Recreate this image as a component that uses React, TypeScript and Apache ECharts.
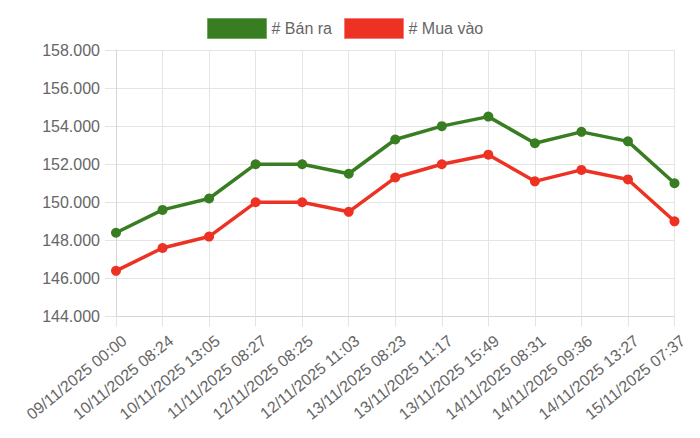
import React, { useEffect, useRef } from "react";
import * as echarts from "echarts";

const categories = [
  "09/11/2025 00:00",
  "10/11/2025 08:24",
  "10/11/2025 13:05",
  "11/11/2025 08:27",
  "12/11/2025 08:25",
  "12/11/2025 11:03",
  "13/11/2025 08:23",
  "13/11/2025 11:17",
  "13/11/2025 15:49",
  "14/11/2025 08:31",
  "14/11/2025 09:36",
  "14/11/2025 13:27",
  "15/11/2025 07:37",
];

const sellValues = [148400, 149600, 150200, 152000, 152000, 151500, 153300, 154000, 154500, 153100, 153700, 153200, 151000];
const buyValues = [146400, 147600, 148200, 150000, 150000, 149500, 151300, 152000, 152500, 151100, 151700, 151200, 149000];

const seriesNames = ["# Bán ra", "# Mua vào"];
const yMin = 144000;
const yMax = 158000;
const yStep = 2000;

const GREEN = "#387d22";
const RED = "#ed3224";
const FONT = "'Liberation Sans', Arial, Helvetica, sans-serif";

function fmt(v: number): string {
  return String(Math.round(v)).replace(/\B(?=(\d{3})+(?!\d))/g, ".");
}

export default function App() {
  const ref = useRef<HTMLDivElement>(null);
  useEffect(() => {
    document.body.style.margin = "0";
    if (!ref.current) return;
    const chart = echarts.init(ref.current, undefined, { renderer: "svg" });
    const gridColor = "#e4e4e4";
    chart.setOption({
      animation: false,
      textStyle: { fontFamily: FONT },
      legend: {
        top: 18,
        left: 207,
        padding: 0,
        itemWidth: 59,
        itemHeight: 20,
        itemGap: 12,
        icon: "rect",
        textStyle: { fontSize: 16, color: "#666", fontFamily: FONT },
        data: [
          { name: seriesNames[0], itemStyle: { color: GREEN, borderColor: "#6fa85c", borderWidth: 1 } },
          { name: seriesNames[1], itemStyle: { color: RED, borderColor: "#f47d73", borderWidth: 1 } },
        ],
      },
      grid: { left: 116, right: 25.5, top: 50, bottom: 121.5, containLabel: false },
      xAxis: {
        type: "category",
        data: categories,
        boundaryGap: false,
        axisLine: { show: true, lineStyle: { color: "#d6d6d6" } },
        axisTick: { show: true, length: 10, lineStyle: { color: gridColor } },
        splitLine: { show: true, lineStyle: { color: gridColor } },
        axisLabel: {
          interval: 0,
          rotate: 39,
          fontSize: 16,
          color: "#666",
          fontFamily: FONT,
          margin: 29,
          padding: [0, -11, 0, 0],
        },
      },
      yAxis: {
        type: "value",
        min: yMin,
        max: yMax,
        interval: yStep,
        axisLine: { show: true, lineStyle: { color: "#d6d6d6" } },
        axisTick: { show: true, length: 11, lineStyle: { color: gridColor } },
        splitLine: { show: true, lineStyle: { color: gridColor } },
        axisLabel: {
          fontSize: 16,
          color: "#666",
          fontFamily: FONT,
          margin: 16,
          formatter: (v: number) => fmt(v),
        },
      },
      series: [
        {
          name: seriesNames[0],
          type: "line",
          data: sellValues,
          symbol: "circle",
          symbolSize: 10,
          lineStyle: { color: GREEN, width: 3.5 },
          itemStyle: { color: GREEN },
        },
        {
          name: seriesNames[1],
          type: "line",
          data: buyValues,
          symbol: "circle",
          symbolSize: 10,
          lineStyle: { color: RED, width: 3.5 },
          itemStyle: { color: RED },
        },
      ],
    });
    return () => chart.dispose();
  }, []);
  return <div ref={ref} style={{ width: 700, height: 438 }} />;
}
